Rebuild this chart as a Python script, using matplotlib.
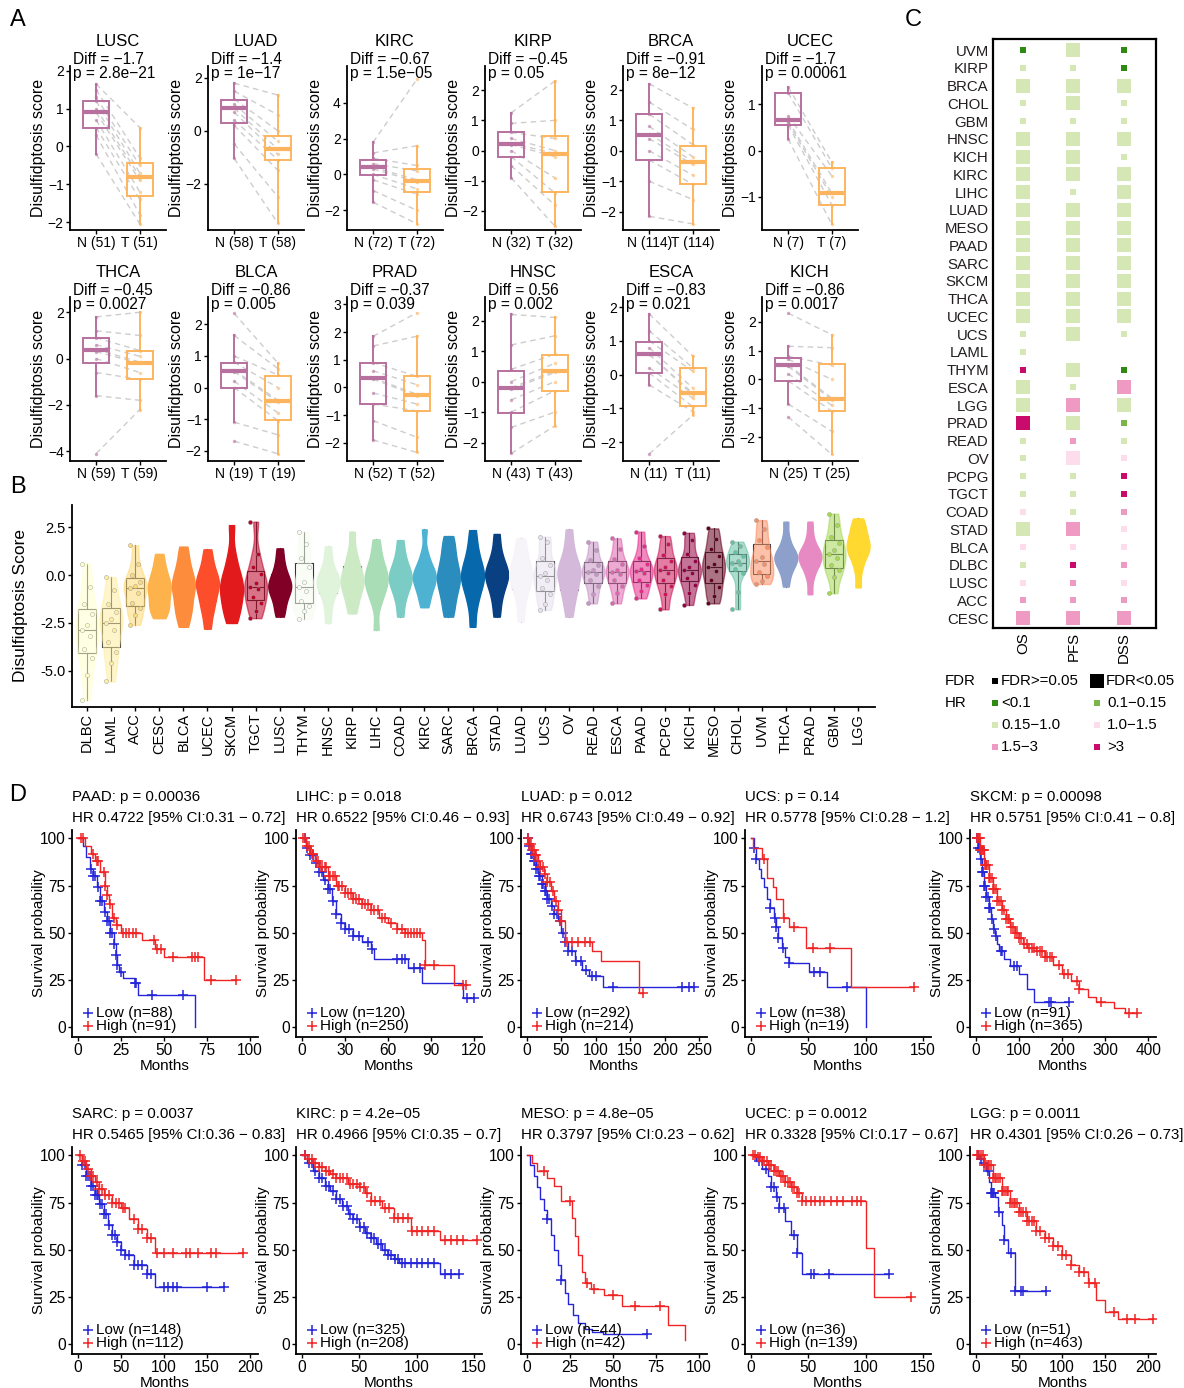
import numpy as np
import matplotlib
matplotlib.use('Agg')
from matplotlib import pyplot as plt

plt.rcParams['font.family'] = ['Liberation Sans', 'DejaVu Sans']

# ---------------- panel A : paired normal / tumour ----------------
pair_names = ['LUSC', 'LUAD', 'KIRC', 'KIRP', 'BRCA', 'UCEC',
              'THCA', 'BLCA', 'PRAD', 'HNSC', 'ESCA', 'KICH']
pair_n = [51, 58, 72, 32, 114, 7, 59, 19, 52, 43, 11, 25]
pair_diff = ['−1.7', '−1.4', '−0.67', '−0.45', '−0.91', '−1.7',
             '−0.45', '−0.86', '−0.37', '0.56', '−0.83', '−0.86']
pair_p = ['2.8e−21', '1e−17', '1.5e−05', '0.05', '8e−12', '0.00061',
          '0.0027', '0.005', '0.039', '0.002', '0.021', '0.0017']
# box stats: q1, median, q3, lower whisker, upper whisker
normal_box = [[0.5, 0.9, 1.2, -0.2, 1.65], [0.3, 0.85, 1.16, -1.05, 1.8],
              [-0.05, 0.4, 0.83, -1.55, 1.8], [-0.2, 0.23, 0.63, -0.9, 1.25],
              [-0.3, 0.52, 1.2, -2.15, 2.2], [0.55, 0.66, 1.25, 0.25, 1.38],
              [-0.18, 0.38, 0.88, -1.6, 1.8], [0.0, 0.52, 0.78, -1.1, 1.65],
              [-0.6, 0.35, 0.87, -1.9, 1.85], [-1.02, -0.22, 0.36, -2.35, 2.2],
              [0.05, 0.6, 0.98, -0.3, 1.8], [-0.05, 0.5, 0.73, -0.85, 1.15]]
tumor_box = [[-1.3, -0.8, -0.45, -2.05, 0.5], [-1.12, -0.71, -0.19, -3.5, 1.35],
             [-1.0, -0.35, 0.28, -2.75, 1.6], [-1.37, -0.1, 0.48, -2.5, 2.3],
             [-1.1, -0.38, 0.17, -2.4, 1.4], [-1.18, -0.92, -0.38, -1.6, -0.25],
             [-0.87, -0.18, 0.33, -2.2, 2.0], [-1.03, -0.42, 0.36, -2.1, 0.78],
             [-0.85, -0.28, 0.4, -2.35, 1.85], [-0.3, 0.35, 0.86, -1.45, 2.1],
             [-0.93, -0.55, 0.2, -1.2, 0.55], [-1.08, -0.68, 0.52, -2.6, 1.55]]
normal_pts = [[1.65, 1.5, 1.3, 1.2, 1.0, 0.9, 0.7, 0.5, 0.3, -0.2],
              [1.8, 1.5, 1.2, 1.0, 0.85, 0.7, 0.4, 0.2, -0.5, -1.05],
              [1.8, 1.2, 0.9, 0.6, 0.4, 0.3, 0.0, -0.3, -0.9, -1.55],
              [1.25, 0.9, 0.6, 0.4, 0.25, 0.2, 0.0, -0.2, -0.5, -0.9],
              [2.2, 1.6, 1.2, 0.8, 0.55, 0.4, 0.0, -0.3, -1.0, -2.15],
              [1.38, 1.25, 0.75, 0.65, 0.6, 0.55, 0.25],
              [1.8, 1.2, 0.9, 0.6, 0.4, 0.3, 0.0, -0.6, -1.6, -4.1],
              [2.35, 1.65, 1.0, 0.8, 0.55, 0.5, 0.2, 0.0, -1.1, -1.7],
              [1.85, 1.5, 0.9, 0.6, 0.35, 0.3, -0.2, -0.6, -1.2, -1.9],
              [2.2, 1.2, 0.4, 0.0, -0.2, -0.25, -0.6, -1.0, -1.5, -2.35],
              [1.8, 1.3, 1.0, 0.8, 0.6, 0.6, 0.2, 0.05, -0.3, -2.35],
              [2.3, 1.15, 0.8, 0.7, 0.5, 0.45, 0.2, -0.05, -0.85, -1.3]]
tumor_pts = [[0.5, -0.3, -0.5, -0.7, -0.8, -0.9, -1.2, -1.4, -1.8, -2.05],
             [1.35, 0.6, 0.0, -0.4, -0.7, -0.9, -1.1, -1.5, -2.5, -3.5],
             [5.3, 1.6, 0.5, 0.2, -0.3, -0.4, -0.8, -1.1, -2.0, -2.75],
             [2.3, 1.0, 0.4, 0.0, -0.1, -0.2, -0.9, -1.4, -1.8, -2.5],
             [1.4, 0.7, 0.2, -0.2, -0.35, -0.45, -0.8, -1.1, -1.6, -2.4],
             [-0.25, -0.38, -0.55, -0.92, -1.0, -1.18, -1.6],
             [2.0, 1.0, 0.35, 0.1, -0.15, -0.2, -0.6, -0.9, -1.8, -2.2],
             [0.78, 0.6, 0.4, 0.0, -0.4, -0.45, -0.8, -1.05, -1.5, -2.1],
             [2.7, 1.85, 0.4, 0.1, -0.25, -0.3, -0.6, -0.85, -1.8, -2.35],
             [2.1, 1.5, 0.9, 0.6, 0.35, 0.3, 0.0, -0.3, -1.0, -1.45],
             [0.55, 0.2, 0.1, -0.4, -0.55, -0.6, -0.7, -0.95, -1.1, -1.2],
             [1.55, 1.1, 0.5, 0.0, -0.65, -0.7, -0.9, -1.1, -1.8, -2.6]]
pair_ylim = [(-2.21, 2.13), (-3.76, 2.45), (-3.1, 6.05), (-2.63, 2.8),
             (-2.6, 2.78), (-1.72, 1.83), (-4.42, 2.66), (-2.33, 2.87),
             (-2.66, 3.27), (-2.6, 2.77), (-2.56, 2.3), (-2.83, 2.86)]
pair_yticks = [[-2, -1, 0, 1, 2], [-2, 0, 2], [-2, 0, 2, 4], [-2, -1, 0, 1, 2],
               [-2, -1, 0, 1, 2], [-1, 0, 1], [-4, -2, 0, 2], [-2, -1, 0, 1, 2],
               [-2, -1, 0, 1, 2, 3], [-2, -1, 0, 1, 2], [-2, -1, 0, 1, 2],
               [-2, -1, 0, 1, 2]]

# ---------------- panel B : pan-cancer score ----------------
b_names = ['DLBC', 'LAML', 'ACC', 'CESC', 'BLCA', 'UCEC', 'SKCM', 'TGCT', 'LUSC',
           'THYM', 'HNSC', 'KIRP', 'LIHC', 'COAD', 'KIRC', 'SARC', 'BRCA', 'STAD',
           'LUAD', 'UCS', 'OV', 'READ', 'ESCA', 'PAAD', 'PCPG', 'KICH', 'MESO',
           'CHOL', 'UVM', 'THCA', 'PRAD', 'GBM', 'LGG']
b_n = [48, 151, 79, 306, 412, 545, 470, 156, 501, 119, 522, 290, 371, 480, 533,
       263, 1100, 415, 515, 57, 379, 166, 184, 179, 184, 66, 87, 36, 80, 510,
       498, 168, 516]
b_vals = [[-6.5, -5.2, -4.3, -3.87, -3.2, -2.86, -2.6, -2.03, -1.5, -0.6, 0.6],
          [-5.55, -4.6, -4.0, -3.47, -2.85, -2.52, -2.3, -1.91, -1.5, -0.8, -0.1],
          [-2.6, -2.1, -1.7, -1.48, -0.95, -0.7, -0.55, -0.35, 0.0, 0.6, 1.55],
          [-2.25, -1.9, -1.6, -1.39, -0.95, -0.75, -0.55, -0.26, 0.05, 0.5, 1.1],
          [-2.7, -2.1, -1.7, -1.39, -0.85, -0.65, -0.45, -0.09, 0.25, 0.8, 1.48],
          [-2.8, -2.0, -1.55, -1.2, -0.75, -0.55, -0.38, -0.12, 0.2, 0.7, 1.34],
          [-2.5, -2.0, -1.6, -1.3, -0.85, -0.65, -0.45, -0.05, 0.35, 1.1, 2.6],
          [-2.25, -1.85, -1.45, -1.13, -0.75, -0.6, -0.4, 0.05, 0.4, 1.1, 2.78],
          [-2.17, -1.7, -1.25, -0.95, -0.7, -0.55, -0.42, -0.12, 0.2, 0.7, 1.39],
          [-2.3, -1.9, -1.6, -1.35, -0.85, -0.64, -0.35, 0.4, 0.9, 1.6, 2.26],
          [-2.5, -1.7, -1.1, -0.78, -0.52, -0.4, -0.28, -0.05, 0.25, 0.8, 1.5],
          [-2.0, -1.45, -1.0, -0.7, -0.4, -0.25, -0.1, 0.3, 0.65, 1.2, 2.26],
          [-2.86, -1.5, -1.0, -0.7, -0.35, -0.2, -0.05, 0.3, 0.6, 1.15, 1.86],
          [-2.17, -1.4, -0.9, -0.6, -0.3, -0.15, 0.0, 0.3, 0.6, 1.1, 1.82],
          [-1.68, -1.2, -0.8, -0.52, -0.25, -0.1, 0.02, 0.26, 0.55, 1.1, 2.38],
          [-2.17, -1.6, -1.05, -0.7, -0.3, -0.1, 0.1, 0.56, 0.95, 1.5, 2.03],
          [-2.7, -1.6, -1.0, -0.6, -0.2, -0.05, 0.1, 0.52, 0.9, 1.5, 2.34],
          [-2.17, -1.4, -0.85, -0.52, -0.15, 0.0, 0.12, 0.43, 0.75, 1.3, 2.14],
          [-2.43, -1.5, -0.9, -0.52, -0.15, 0.0, 0.15, 0.52, 0.85, 1.35, 1.91],
          [-1.82, -1.5, -1.0, -0.7, -0.25, -0.05, 0.1, 0.52, 0.9, 1.7, 2.0],
          [-2.17, -1.4, -0.95, -0.6, -0.1, 0.05, 0.2, 0.52, 0.9, 1.5, 2.38],
          [-1.48, -1.0, -0.55, -0.26, 0.05, 0.15, 0.25, 0.52, 0.8, 1.3, 1.74],
          [-1.48, -0.95, -0.55, -0.26, 0.05, 0.15, 0.28, 0.57, 0.85, 1.35, 1.91],
          [-1.22, -0.85, -0.5, -0.26, 0.08, 0.2, 0.33, 0.6, 0.9, 1.5, 2.26],
          [-1.79, -1.0, -0.55, -0.26, 0.1, 0.25, 0.4, 0.75, 1.05, 1.6, 2.03],
          [-1.56, -0.95, -0.5, -0.17, 0.1, 0.25, 0.4, 0.75, 1.1, 1.8, 2.2],
          [-1.48, -1.1, -0.6, -0.26, 0.2, 0.4, 0.58, 1.0, 1.35, 1.9, 2.43],
          [-1.79, -0.9, 0.1, 0.31, 0.55, 0.65, 0.75, 1.0, 1.2, 1.5, 1.74],
          [-0.47, -0.3, -0.05, 0.17, 0.55, 0.75, 0.95, 1.44, 1.8, 2.4, 2.86],
          [-0.6, 0.0, 0.35, 0.6, 0.8, 0.9, 1.0, 1.2, 1.45, 1.95, 2.78],
          [-1.0, -0.1, 0.35, 0.6, 0.85, 0.95, 1.05, 1.2, 1.45, 2.0, 2.78],
          [-0.95, -0.1, 0.25, 0.52, 0.9, 1.1, 1.3, 1.68, 2.0, 2.6, 3.2],
          [-0.64, 0.3, 0.85, 1.13, 1.4, 1.5, 1.65, 2.0, 2.25, 2.6, 2.95]]
b_colors = ['#FFFFCC', '#FFEDA0', '#FED976', '#FEB24C', '#FD8D3C', '#FC4E2A',
            '#E31A1C', '#BD0026', '#800026', '#F7FCF0', '#E0F3DB', '#CCEBC5',
            '#A8DDB5', '#7BCCC4', '#4EB3D3', '#2B8CBE', '#0868AC', '#084081',
            '#F7F4F9', '#E7E1EF', '#D4B9DA', '#C994C7', '#DF65B0', '#E7298A',
            '#CE1256', '#980043', '#67001F', '#66C2A5', '#FC8D62', '#8DA0CB',
            '#E78AC3', '#A6D854', '#FFD92F']

# ---------------- panel C : HR / FDR grid ----------------
c_rows = ['UVM', 'KIRP', 'BRCA', 'CHOL', 'GBM', 'HNSC', 'KICH', 'KIRC', 'LIHC',
          'LUAD', 'MESO', 'PAAD', 'SARC', 'SKCM', 'THCA', 'UCEC', 'UCS', 'LAML',
          'THYM', 'ESCA', 'LGG', 'PRAD', 'READ', 'OV', 'PCPG', 'TGCT', 'COAD',
          'STAD', 'BLCA', 'DLBC', 'LUSC', 'ACC', 'CESC']
c_cols = ['OS', 'PFS', 'DSS']
# HR class: 0 <0.1, 1 0.1-0.15, 2 0.15-1.0, 3 1.0-1.5, 4 1.5-3, 5 >3, -1 missing
os_hr = [0, 2, 2, 2, 2, 2, 2, 2, 2, 2, 2, 2, 2, 2, 2, 2, 2, 2, 5, 2, 2, 5, 2, 2,
         2, 2, 3, 2, 3, 2, 3, 4, 4]
pfs_hr = [2, 2, 2, 2, 2, 2, 2, 2, 2, 2, 2, 2, 2, 2, 2, 2, 2, -1, 2, 2, 4, 2, 4, 3,
          2, 2, 2, 4, 3, 5, 4, 4, 4]
dss_hr = [0, 0, 2, 2, 2, 2, 2, 2, 2, 2, 2, 2, 2, 2, 2, 2, 2, -1, 0, 4, 2, 1, 2, 3,
          5, 5, 4, 3, 3, 4, 3, 4, 4]
# 1 = FDR<0.05 (large square), 0 = FDR>=0.05 (small square)
os_sig = [0, 0, 1, 0, 0, 1, 1, 1, 1, 1, 1, 1, 1, 1, 1, 1, 0, 0, 0, 1, 1, 1, 0, 0,
          0, 0, 0, 1, 0, 0, 0, 0, 1]
pfs_sig = [1, 0, 1, 1, 0, 1, 1, 1, 0, 1, 1, 1, 1, 1, 1, 1, 1, 0, 1, 0, 1, 1, 0, 1,
           0, 0, 0, 1, 0, 0, 0, 0, 1]
dss_sig = [0, 0, 1, 0, 0, 1, 0, 1, 1, 1, 1, 1, 1, 1, 1, 1, 0, 0, 0, 1, 1, 0, 0, 0,
           0, 0, 0, 0, 0, 0, 0, 0, 1]
hr_labels = ['<0.1', '0.1−0.15', '0.15−1.0', '1.0−1.5', '1.5−3', '>3']
hr_colors = ['#2E8A12', '#7BB447', '#D5E7B5', '#FDDDEB', '#EF9AC3', '#C90C6C']

# ---------------- panel D : Kaplan-Meier ----------------
km_names = ['PAAD', 'LIHC', 'LUAD', 'UCS', 'SKCM', 'SARC', 'KIRC', 'MESO', 'UCEC', 'LGG']
km_p = ['0.00036', '0.018', '0.012', '0.14', '0.00098', '0.0037', '4.2e−05',
        '4.8e−05', '0.0012', '0.0011']
km_hr = ['0.4722 [95% CI:0.31 − 0.72]', '0.6522 [95% CI:0.46 − 0.93]',
         '0.6743 [95% CI:0.49 − 0.92]', '0.5778 [95% CI:0.28 − 1.2]',
         '0.5751 [95% CI:0.41 − 0.8]', '0.5465 [95% CI:0.36 − 0.83]',
         '0.4966 [95% CI:0.35 − 0.7]', '0.3797 [95% CI:0.23 − 0.62]',
         '0.3328 [95% CI:0.17 − 0.67]', '0.4301 [95% CI:0.26 − 0.73]']
km_n_low = [88, 120, 292, 38, 91, 148, 325, 44, 36, 51]
km_n_high = [91, 250, 214, 19, 365, 112, 208, 42, 139, 463]
km_xmax = [100, 120, 250, 150, 400, 200, 150, 100, 150, 200]
km_xstep = [25, 30, 50, 50, 100, 50, 50, 25, 50, 50]

paad_lo_t = [0, 3, 5, 7, 9, 11, 13, 15, 17, 19, 21, 22, 23, 24, 26, 33, 35, 68]
paad_lo_s = [100, 96, 90, 84, 80, 74, 67, 61, 56, 50, 44, 38, 33, 29, 26, 23, 17, 0]
paad_lo_c = [8, 9, 10, 12, 13, 14, 16, 17, 18, 19, 20, 21, 22, 23, 25, 33, 34, 43, 61]
paad_hi_t = [0, 4, 8, 10, 13, 16, 17, 18, 20, 22, 25, 37, 45, 50, 73]
paad_hi_s = [100, 96, 92, 88, 82, 75, 70, 65, 58, 54, 50, 46, 41, 37, 25]
paad_hi_c = [2, 3, 9, 11, 12, 15, 16, 17, 19, 21, 23, 26, 28, 30, 32, 34, 44, 46,
             48, 55, 66, 68, 70, 77, 92]

lihc_lo_t = [0, 3, 6, 9, 12, 15, 18, 21, 24, 27, 30, 36, 42, 48, 50, 74, 84, 112]
lihc_lo_s = [100, 95, 91, 87, 82, 78, 73, 67, 60, 55, 52, 48, 45, 41, 36, 31, 23, 15]
lihc_lo_c = [2, 4, 6, 8, 10, 12, 14, 16, 18, 20, 22, 24, 27, 30, 33, 36, 40, 46,
             49, 66, 70, 72, 78, 82, 115, 120]
lihc_hi_t = [0, 3, 6, 9, 12, 18, 24, 30, 36, 42, 48, 54, 60, 66, 72, 84, 86, 106]
lihc_hi_s = [100, 96, 92, 88, 85, 80, 75, 71, 68, 65, 62, 58, 55, 52, 50, 46, 33, 22]
lihc_hi_c = [1, 2, 4, 5, 7, 8, 10, 11, 13, 14, 16, 17, 19, 20, 22, 23, 25, 26, 28,
             30, 32, 34, 36, 38, 40, 42, 44, 46, 48, 50, 53, 56, 58, 62, 66, 70,
             72, 74, 76, 78, 80, 82, 86, 92, 112, 114]

luad_lo_t = [0, 3, 6, 10, 14, 18, 22, 26, 30, 35, 40, 45, 50, 55, 60, 70, 80, 90, 110]
luad_lo_s = [100, 96, 92, 88, 84, 80, 76, 72, 68, 64, 60, 56, 50, 45, 40, 35, 30, 27, 21]
luad_lo_c = [2, 4, 6, 8, 10, 12, 14, 16, 18, 20, 22, 24, 26, 28, 30, 33, 36, 40,
             44, 48, 52, 56, 60, 66, 72, 78, 86, 95, 100, 125, 225, 235, 242]
luad_hi_t = [0, 4, 8, 12, 16, 20, 25, 30, 35, 40, 45, 50, 55, 95, 108, 162]
luad_hi_s = [100, 97, 94, 91, 88, 85, 81, 77, 72, 67, 62, 56, 45, 40, 35, 18]
luad_hi_c = [2, 4, 6, 8, 10, 12, 14, 17, 20, 23, 26, 30, 34, 38, 42, 46, 50, 58,
             66, 75, 85, 92, 168]

ucs_lo_t = [0, 3, 5, 7, 9, 12, 14, 17, 20, 22, 24, 27, 30, 33, 51, 66, 100]
ucs_lo_s = [100, 95, 89, 84, 79, 74, 68, 63, 58, 53, 47, 42, 37, 34, 29, 21, 0]
ucs_lo_c = [3, 5, 17, 21, 22, 24, 28, 33, 55, 60, 84]
ucs_hi_t = [0, 2, 10, 14, 19, 22, 28, 33, 48, 87]
ucs_hi_s = [100, 95, 89, 79, 74, 68, 58, 53, 42, 21]
ucs_hi_c = [12, 29, 38, 54, 69, 142]

skcm_lo_t = [0, 5, 10, 15, 20, 25, 30, 35, 40, 45, 50, 55, 65, 80, 100, 120, 135]
skcm_lo_s = [100, 95, 89, 82, 75, 69, 63, 57, 52, 48, 44, 40, 36, 32, 28, 20, 13]
skcm_lo_c = [3, 6, 9, 12, 15, 18, 20, 22, 25, 28, 30, 33, 37, 42, 48, 58, 62, 88,
             95, 170, 175, 217]
skcm_hi_t = [0, 10, 20, 30, 40, 50, 60, 70, 80, 90, 100, 110, 120, 140, 160, 180,
             200, 220, 240, 260, 280, 320, 345]
skcm_hi_s = [100, 94, 86, 79, 73, 67, 62, 57, 53, 50, 47, 44, 42, 40, 37, 33, 28,
             24, 20, 16, 13, 10, 7]
skcm_hi_c = [3, 5, 7, 9, 11, 13, 15, 17, 19, 21, 23, 25, 28, 31, 34, 37, 40, 43,
             46, 50, 54, 58, 62, 66, 70, 74, 78, 82, 86, 90, 95, 100, 106, 112,
             118, 124, 130, 136, 142, 148, 154, 160, 166, 172, 178, 192, 205, 213,
             235, 240, 291, 356, 375]

sarc_lo_t = [0, 5, 10, 15, 20, 25, 30, 35, 40, 45, 50, 55, 65, 80, 90]
sarc_lo_s = [100, 95, 89, 84, 79, 74, 69, 63, 58, 54, 50, 47, 42, 37, 30]
sarc_lo_c = [5, 8, 10, 12, 14, 16, 18, 20, 22, 24, 26, 28, 30, 33, 36, 40, 43, 46,
             50, 55, 60, 65, 70, 75, 80, 85, 100, 105, 110, 115, 150, 170]
sarc_hi_t = [0, 5, 10, 15, 20, 25, 30, 40, 50, 60, 70, 80, 90]
sarc_hi_s = [100, 97, 93, 89, 86, 82, 79, 75, 72, 66, 61, 56, 48]
sarc_hi_c = [3, 6, 9, 12, 15, 18, 22, 25, 28, 32, 36, 40, 44, 48, 52, 55, 65, 70,
             75, 80, 85, 92, 100, 110, 125, 130, 140, 155, 160, 192]

kirc_lo_t = [0, 5, 10, 15, 20, 25, 30, 35, 40, 45, 50, 55, 60, 65, 70, 75, 80, 85, 120]
kirc_lo_s = [100, 96, 92, 88, 84, 81, 77, 73, 69, 66, 62, 59, 56, 53, 50, 47, 45, 43, 37]
kirc_lo_c = [3, 6, 9, 12, 15, 18, 21, 24, 27, 30, 33, 36, 39, 42, 45, 48, 51, 54,
             57, 60, 63, 66, 69, 72, 75, 78, 81, 84, 87, 90, 95, 100, 105, 110,
             115, 125, 130, 137]
kirc_hi_t = [0, 5, 10, 15, 20, 25, 30, 40, 50, 55, 60, 70, 80, 95, 120]
kirc_hi_s = [100, 98, 96, 94, 92, 90, 88, 85, 83, 80, 76, 72, 67, 60, 55]
kirc_hi_c = [3, 6, 9, 12, 15, 18, 21, 24, 27, 30, 33, 36, 39, 42, 45, 48, 51, 54,
             57, 60, 64, 68, 72, 76, 80, 84, 88, 92, 96, 100, 105, 110, 115, 125,
             130, 135, 140, 152]

meso_lo_t = [0, 2, 4, 6, 8, 10, 12, 14, 16, 18, 20, 22, 24, 27, 30, 34, 38, 44]
meso_lo_s = [100, 95, 89, 83, 77, 71, 66, 58, 50, 42, 34, 27, 21, 15, 11, 8, 6, 5]
meso_lo_c = [12, 20, 70]
meso_hi_t = [0, 3, 6, 12, 16, 20, 26, 28, 30, 32, 34, 37, 45, 55, 82, 92]
meso_hi_s = [100, 96, 92, 88, 84, 76, 67, 57, 47, 38, 32, 29, 26, 20, 10, 2]
meso_hi_c = [10, 25, 35, 39, 50, 63, 77]

ucec_lo_t = [0, 5, 10, 15, 18, 22, 25, 30, 35, 40, 45]
ucec_lo_s = [100, 97, 93, 89, 83, 78, 72, 65, 58, 48, 37]
ucec_lo_c = [7, 13, 18, 20, 23, 25, 29, 38, 40, 52, 55, 68, 120]
ucec_hi_t = [0, 5, 10, 15, 20, 25, 30, 35, 40, 45, 100, 107]
ucec_hi_s = [100, 99, 97, 95, 92, 89, 86, 83, 80, 76, 51, 25]
ucec_hi_c = [2, 4, 6, 8, 10, 12, 14, 16, 18, 20, 22, 24, 26, 28, 30, 32, 34, 36,
             38, 40, 42, 45, 48, 52, 56, 60, 64, 70, 75, 80, 88, 92, 96, 139]

lgg_lo_t = [0, 4, 8, 12, 16, 18, 22, 26, 30, 33, 38, 45]
lgg_lo_s = [100, 98, 96, 92, 86, 80, 78, 70, 63, 55, 48, 28]
lgg_lo_c = [3, 6, 10, 14, 18, 19, 20, 21, 27, 33, 41, 46, 52, 55, 81]
lgg_hi_t = [0, 10, 20, 30, 40, 50, 60, 70, 80, 90, 100, 110, 120, 130, 140, 150, 165]
lgg_hi_s = [100, 95, 88, 81, 75, 70, 65, 60, 56, 52, 47, 42, 38, 32, 23, 17, 13]
lgg_hi_c = [2, 4, 6, 8, 10, 12, 14, 16, 18, 20, 22, 24, 26, 28, 30, 32, 34, 36,
            38, 40, 42, 44, 46, 48, 50, 52, 55, 58, 60, 62, 65, 68, 70, 75, 80,
            85, 90, 95, 100, 105, 110, 120, 125, 131, 138, 160, 175, 185, 205]

km_low = [(paad_lo_t, paad_lo_s, paad_lo_c), (lihc_lo_t, lihc_lo_s, lihc_lo_c),
          (luad_lo_t, luad_lo_s, luad_lo_c), (ucs_lo_t, ucs_lo_s, ucs_lo_c),
          (skcm_lo_t, skcm_lo_s, skcm_lo_c), (sarc_lo_t, sarc_lo_s, sarc_lo_c),
          (kirc_lo_t, kirc_lo_s, kirc_lo_c), (meso_lo_t, meso_lo_s, meso_lo_c),
          (ucec_lo_t, ucec_lo_s, ucec_lo_c), (lgg_lo_t, lgg_lo_s, lgg_lo_c)]
km_high = [(paad_hi_t, paad_hi_s, paad_hi_c), (lihc_hi_t, lihc_hi_s, lihc_hi_c),
           (luad_hi_t, luad_hi_s, luad_hi_c), (ucs_hi_t, ucs_hi_s, ucs_hi_c),
           (skcm_hi_t, skcm_hi_s, skcm_hi_c), (sarc_hi_t, sarc_hi_s, sarc_hi_c),
           (kirc_hi_t, kirc_hi_s, kirc_hi_c), (meso_hi_t, meso_hi_s, meso_hi_c),
           (ucec_hi_t, ucec_hi_s, ucec_hi_c), (lgg_hi_t, lgg_hi_s, lgg_hi_c)]

# ------------------------------------------------------------------
W, H = 1184, 1388
fig = plt.figure(figsize=(W / 100, H / 100), dpi=100)


def px_axes(x0, y0, x1, y1):
    return fig.add_axes([x0 / W, 1 - y1 / H, (x1 - x0) / W, (y1 - y0) / H])


def clean(ax):
    ax.spines['top'].set_visible(False)
    ax.spines['right'].set_visible(False)
    ax.spines['left'].set_linewidth(1.3)
    ax.spines['bottom'].set_linewidth(1.3)
    ax.tick_params(length=3, width=1, colors='black', pad=1.5)


N_COL = '#B8709F'
T_COL = '#FDB45E'

# panel letters
for lab, x, y in [('A', 18, 20), ('B', 18, 487), ('C', 913, 20), ('D', 18, 795)]:
    fig.text(x / W, 1 - y / H, lab, fontsize=17, va='center', ha='center')

# ---- A
a_left = [70, 208, 347, 485, 623, 762]
for i, name in enumerate(pair_names):
    r, c = divmod(i, 6)
    y0 = 66 if r == 0 else 297
    ax = px_axes(a_left[c], y0, a_left[c] + 96, y0 + 164)
    clean(ax)
    nv, tv = normal_pts[i], tumor_pts[i]
    for a, b in zip(nv, tv):
        ax.plot([1, 2], [a, b], color='#CDCDCD', lw=1, ls=(0, (4, 3)), zorder=1)
    ax.scatter(np.ones(len(nv)), nv, s=6, color=N_COL, alpha=0.6, lw=0, zorder=3)
    ax.scatter(np.full(len(tv), 2), tv, s=6, color=T_COL, alpha=0.6, lw=0, zorder=3)
    stats = []
    for bx in (normal_box[i], tumor_box[i]):
        stats.append(dict(q1=bx[0], med=bx[1], q3=bx[2], whislo=bx[3],
                          whishi=bx[4], fliers=[]))
    bp = ax.bxp(stats, positions=[1, 2], widths=0.6, showfliers=False,
                showcaps=False, patch_artist=True)
    for k, col in enumerate([N_COL, T_COL]):
        bp['boxes'][k].set(facecolor='none', edgecolor=col, linewidth=1.4, zorder=2)
        bp['medians'][k].set(color=col, linewidth=3, zorder=2)
        for w in bp['whiskers'][2 * k:2 * k + 2]:
            w.set(color=col, linewidth=1.4, zorder=2)
    ax.set_xlim(0.4, 2.6)
    ax.set_ylim(*pair_ylim[i])
    ax.set_yticks(pair_yticks[i])
    ax.tick_params(axis='y', labelsize=10)
    ax.set_xticks([1, 2])
    ax.set_xticklabels([f'N ({pair_n[i]})', f'T ({pair_n[i]})'], fontsize=10)
    ax.set_ylabel('Disulfidptosis score', fontsize=11.5)
    ax.yaxis.set_label_coords(-0.25, 0.5)
    ax.text(0.5, 1.152, name, transform=ax.transAxes, ha='center', va='center',
            fontsize=12)
    ax.text(0.03, 1.037, f'Diff = {pair_diff[i]}', transform=ax.transAxes,
            va='center', fontsize=11.2)
    ax.text(0.03, 0.957, f'p = {pair_p[i]}', transform=ax.transAxes,
            va='center', fontsize=11.2)

# ---- B
axb = px_axes(72, 505, 875, 707)
clean(axb)
pos = np.arange(len(b_names))
bp = axb.boxplot(b_vals, positions=pos, widths=0.72, whis=(0, 100),
                 showfliers=False, showcaps=False, patch_artist=True)
for k in range(len(b_names)):
    bp['boxes'][k].set(facecolor='none', edgecolor='#333333', linewidth=0.8, zorder=1)
    bp['medians'][k].set(color='#333333', linewidth=0.8, zorder=1)
    for w in bp['whiskers'][2 * k:2 * k + 2]:
        w.set(color='#333333', linewidth=0.8, zorder=1)
vp = axb.violinplot(b_vals, positions=pos, widths=0.95, showextrema=False,
                    bw_method=0.4)
for k, body in enumerate(vp['bodies']):
    sparse = b_n[k] < 200
    body.set_facecolor(b_colors[k])
    body.set_edgecolor(b_colors[k])
    body.set_alpha(0.55 if sparse else 1.0)
    body.set_zorder(2)
    if sparse:
        offs = np.tile([-0.22, 0.0, 0.22, -0.11, 0.11], 3)[:len(b_vals[k])]
        axb.scatter(pos[k] + offs, b_vals[k], s=9, color=b_colors[k],
                    edgecolors='#999999', linewidths=0.3, zorder=3)
axb.set_xlim(-0.62, 32.7)
axb.set_ylim(-6.88, 3.65)
axb.set_yticks([-5.0, -2.5, 0.0, 2.5])
axb.set_yticklabels(['-5.0', '-2.5', '0.0', '2.5'], fontsize=10.5)
axb.set_xticks(pos)
axb.set_xticklabels(b_names, rotation=90, fontsize=10.5)
axb.set_ylabel('Disulfidptosis Score', fontsize=12.5)
axb.yaxis.set_label_coords(-0.055, 0.5)

# ---- C
axc = px_axes(993, 39, 1156, 628)
for j, (hr, sig) in enumerate([(os_hr, os_sig), (pfs_hr, pfs_sig), (dss_hr, dss_sig)]):
    for r in range(len(c_rows)):
        if hr[r] < 0:
            continue
        axc.scatter(j + 1, r + 1, marker='s', s=112 if sig[r] else 19,
                    color=hr_colors[hr[r]], lw=0)
axc.set_xlim(0.41, 3.63)
axc.set_ylim(len(c_rows) + 0.56, 0.38)
axc.set_yticks(np.arange(1, len(c_rows) + 1))
axc.set_yticklabels(c_rows, fontsize=10.8, color='#231F20')
axc.set_xticks([1, 2, 3])
axc.set_xticklabels(c_cols, rotation=90, fontsize=10.8)
axc.tick_params(length=0, pad=3)
for s in axc.spines.values():
    s.set_linewidth(1.6)

axl = px_axes(900, 660, 1184, 770)
axl.set_xlim(900, 1184)
axl.set_ylim(770, 660)
axl.axis('off')
axl.text(945, 681, 'FDR', fontsize=10.8, va='center')
axl.text(945, 703, 'HR', fontsize=10.8, va='center')
axl.scatter([995], [681], marker='s', s=19, color='black', lw=0)
axl.text(1001, 681, 'FDR>=0.05', fontsize=10.8, va='center')
axl.scatter([1097], [681], marker='s', s=112, color='black', lw=0)
axl.text(1106, 681, 'FDR<0.05', fontsize=10.8, va='center')
leg_xy = [(995, 703), (1097, 703), (995, 725), (1097, 725), (995, 747), (1097, 747)]
for k, (lx, ly) in enumerate(leg_xy):
    axl.scatter([lx], [ly], marker='s', s=19, color=hr_colors[k], lw=0)
    axl.text(lx + 6 if k % 2 == 0 else lx + 10, ly, hr_labels[k], fontsize=10.8,
             va='center')

# ---- D
d_left = [72, 296, 521, 745, 970]
BLUE = '#2424D8'
RED = '#F02424'


def draw_km(ax, t, s, c, col):
    t = np.asarray(t, float)
    s = np.asarray(s, float)
    end = max(t[-1], max(c))
    tt = np.append(t, end)
    ss = np.append(s, s[-1])
    ax.step(tt, ss, where='post', color=col, lw=1.0)
    idx = np.searchsorted(t, c, side='right') - 1
    ax.plot(c, s[idx], ls='none', marker='+', ms=7, mew=1.1, color=col)


for i, name in enumerate(km_names):
    r, c = divmod(i, 5)
    y0 = 830 + 317 * r
    ax = px_axes(d_left[c], y0, d_left[c] + 186, y0 + 207)
    clean(ax)
    draw_km(ax, *km_low[i], BLUE)
    draw_km(ax, *km_high[i], RED)
    T = km_xmax[i]
    ax.set_xlim(-0.033 * T, 1.045 * T)
    ax.set_ylim(-5.5, 104.5)
    ax.set_xticks(np.arange(0, T + 1, km_xstep[i]))
    ax.set_yticks([0, 25, 50, 75, 100])
    ax.tick_params(labelsize=11.2)
    ax.set_xlabel('Months', fontsize=11, labelpad=0.5)
    ax.set_ylabel('Survival probability', fontsize=11)
    ax.yaxis.set_label_coords(-0.14, 0.5)
    ax.text(0.0, 1.159, f'{name}: p = {km_p[i]}', transform=ax.transAxes,
            va='center', fontsize=10.8)
    ax.text(0.0, 1.058, f'HR {km_hr[i]}', transform=ax.transAxes,
            va='center', fontsize=10.8)
    ax.plot([0.086], [0.116], transform=ax.transAxes, marker='+', ms=7, mew=1.1,
            color=BLUE)
    ax.plot([0.086], [0.053], transform=ax.transAxes, marker='+', ms=7, mew=1.1,
            color=RED)
    ax.text(0.13, 0.116, f'Low (n={km_n_low[i]})', transform=ax.transAxes,
            va='center', fontsize=11)
    ax.text(0.13, 0.053, f'High (n={km_n_high[i]})', transform=ax.transAxes,
            va='center', fontsize=11)

fig.savefig('out.png', dpi=100)
